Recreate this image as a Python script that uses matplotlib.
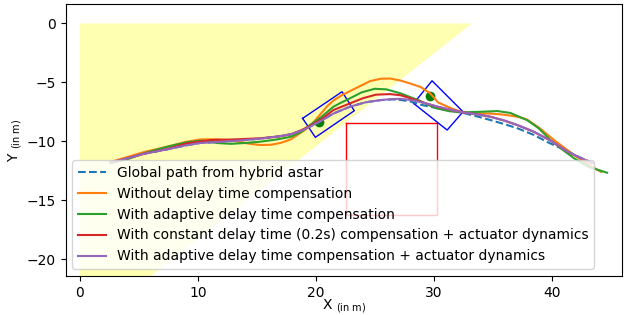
import matplotlib.pyplot as plt

# Paths (x, y in m)
global_x = [2.6, 4.0, 5.5, 7.4, 9.0, 10.2, 12.0, 14.0, 15.3, 16.8, 17.9, 18.8, 19.5, 20.4, 21.5, 22.9, 24.2,
            25.5, 26.5, 27.2, 28.0, 28.9, 30.3, 31.5, 32.5, 33.7, 34.8, 36.0, 37.1, 38.5, 39.7, 40.8, 42.0, 43.0, 43.4]
global_y = [-11.82, -11.45, -11.05, -10.69, -10.35, -10.15, -10.05, -9.9, -9.78, -9.6, -9.41, -9.1, -8.77, -8.3, -7.65, -7.07, -6.7,
            -6.51, -6.45, -6.5, -6.62, -6.9, -7.2, -7.42, -7.6, -7.9, -8.2, -8.55, -8.9, -9.47, -10.1, -10.6, -11.2, -11.65, -11.85]

no_comp_x = [2.6, 4.0, 5.5, 7.4, 9.0, 10.2, 11.6, 12.5, 13.2, 14.3, 15.3, 16.2, 17.0, 17.9, 18.7, 19.5, 20.4, 21.0, 21.5,
             22.2, 22.9, 23.8, 24.6, 25.5, 26.3, 27.2, 28.0, 28.9, 29.7, 30.2, 30.35, 30.8, 31.6, 32.5, 33.5, 34.8,
             36.0, 37.1, 37.9, 39.0, 40.2, 41.0, 41.9, 43.0, 44.2]
no_comp_y = [-11.76, -11.35, -10.9, -10.47, -10.05, -9.85, -9.83, -9.9, -10.0, -10.2, -10.32, -10.3, -10.15, -9.84, -9.3, -8.75, -7.7, -7.0, -6.55,
             -6.1, -5.75, -5.3, -4.9, -4.7, -4.68, -4.85, -5.1, -5.4, -5.94, -6.5, -6.7, -6.9, -7.25, -7.55, -7.65, -7.65,
             -7.75, -7.92, -8.15, -8.9, -9.9, -10.5, -11.17, -11.9, -12.61]

adaptive_x = [2.6, 4.0, 5.5, 7.4, 9.0, 10.2, 11.0, 11.6, 12.8, 14.0, 15.3, 16.7, 17.9, 18.8, 19.5, 20.4, 21.5, 22.2, 22.9,
              23.9, 25.0, 26.0, 27.2, 28.0, 28.9, 29.6, 30.3, 31.3, 32.5, 34.0, 35.4, 36.5, 37.9, 38.9, 39.9, 40.9, 41.9, 43.2, 44.7]
adaptive_y = [-11.85, -11.54, -11.0, -10.47, -10.1, -9.96, -10.0, -10.15, -10.22, -10.15, -10.04, -9.85, -9.62, -9.2, -8.63, -8.0, -7.07, -6.7, -6.36,
              -5.85, -5.55, -5.6, -5.94, -6.25, -6.6, -6.95, -7.21, -7.45, -7.55, -7.5, -7.44, -7.6, -8.2, -8.9, -9.9, -10.7, -11.45, -12.2, -12.67]

const_act_x = [2.6, 4.0, 5.5, 7.4, 9.0, 11.1, 13.0, 15.3, 16.8, 17.9, 18.8, 19.5, 20.4, 21.5, 22.9, 24.0, 25.1, 26.3, 27.2,
               28.0, 28.9, 30.3, 31.5, 32.5, 33.7, 34.8, 36.0, 37.1, 38.5, 40.0, 41.3, 42.5, 43.5]
const_act_y = [-11.82, -11.45, -11.05, -10.66, -10.2, -9.9, -9.85, -9.75, -9.6, -9.41, -9.05, -8.7, -8.2, -7.35, -6.79, -6.35, -6.05, -6.0, -6.1,
               -6.35, -6.65, -7.07, -7.35, -7.55, -7.72, -7.92, -8.25, -8.63, -9.2, -10.0, -10.85, -11.45, -11.85]

adaptive_act_x = [2.6, 4.0, 5.5, 7.4, 9.0, 10.2, 12.0, 14.0, 15.3, 16.8, 17.9, 18.8, 19.5, 20.4, 21.5, 22.9, 24.2, 25.5,
                  26.5, 27.2, 28.0, 28.9, 30.3, 31.5, 32.5, 33.7, 34.8, 36.0, 37.1, 38.5, 40.0, 41.3, 42.5, 43.5]
adaptive_act_y = [-11.82, -11.45, -11.05, -10.69, -10.35, -10.15, -10.05, -9.9, -9.78, -9.6, -9.41, -9.1, -8.77, -8.3, -7.65, -7.07, -6.7, -6.51,
                  -6.42, -6.4, -6.5, -6.68, -7.05, -7.35, -7.55, -7.72, -7.92, -8.25, -8.63, -9.2, -10.0, -10.85, -11.45, -11.85]

# field of view, obstacle, vehicle footprints
fov_x = [0, 33.25, 0]
fov_y = [0, 0, -26.2]
obstacle_x = [22.6, 30.3, 30.3, 22.6, 22.6]
obstacle_y = [-8.46, -8.46, -16.3, -16.3, -8.46]
car1_x = [18.89, 22.23, 23.27, 19.97, 18.89]
car1_y = [-8.06, -5.80, -7.41, -9.67, -8.06]
car2_x = [28.30, 29.86, 32.49, 31.14, 28.30]
car2_y = [-6.79, -4.87, -7.50, -9.05, -6.79]
axle_x = [20.3, 29.72]
axle_y = [-8.35, -6.17]

fig = plt.figure(figsize=(6.3, 3.15), dpi=100)
ax = fig.add_axes([0.104, 0.124, 0.884, 0.862])

ax.fill(fov_x, fov_y, color='yellow', alpha=0.3, lw=0)
ax.plot(obstacle_x, obstacle_y, color='red', lw=1)
ax.plot(car1_x, car1_y, color='blue', lw=1)
ax.plot(car2_x, car2_y, color='blue', lw=1)
ax.plot(axle_x, axle_y, 'o', color='green', ms=6)

ax.plot(global_x, global_y, '--', color='C0', label='Global path from hybrid astar')
ax.plot(no_comp_x, no_comp_y, color='C1', label='Without delay time compensation')
ax.plot(adaptive_x, adaptive_y, color='C2', label='With adaptive delay time compensation')
ax.plot(const_act_x, const_act_y, color='C3',
        label='With constant delay time (0.2s) compensation + actuator dynamics')
ax.plot(adaptive_act_x, adaptive_act_y, color='C4',
        label='With adaptive delay time compensation + actuator dynamics')

ax.set_xlim(-1.21, 46.0)
ax.set_ylim(-21.43, 1.61)
ax.set_xticks([0, 10, 20, 30, 40])
ax.set_yticks([0, -5, -10, -15, -20])
ax.set_xlabel('X $_{\\mathrm{(in\\ m)}}$', labelpad=-2)
ax.set_ylabel('Y $_{\\mathrm{(in\\ m)}}$', labelpad=2)
ax.legend(loc='lower left')

fig.savefig('out.png')
